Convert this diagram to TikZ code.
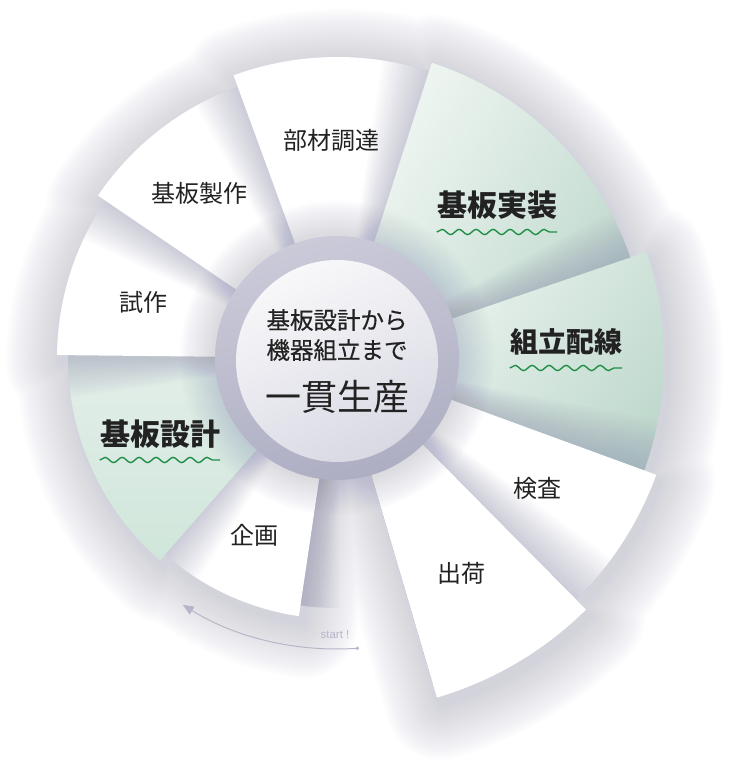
\documentclass[tikz,border=0pt]{standalone}
\usepackage{fontspec}
\setsansfont{Liberation Sans}
\newfontfamily\jp{Noto Sans CJK JP}
\newfontfamily\jpm[FakeBold=0.5]{Noto Sans CJK JP}
\usetikzlibrary{arrows.meta,calc,decorations.pathmorphing}
\definecolor{lav}{HTML}{8E8EAE}
\definecolor{ringtop}{HTML}{CACAD9}
\definecolor{ringbot}{HTML}{AEAEC3}
\definecolor{disktop}{HTML}{F8F8FA}
\definecolor{diskbot}{HTML}{D9D9E4}
\definecolor{mintlt}{HTML}{F3F8F5}
\definecolor{mintdk}{HTML}{BFD9CD}
\definecolor{mintA}{HTML}{E6F0EB}
\definecolor{mintB}{HTML}{D0E6DB}
\definecolor{wavec}{HTML}{1F8E46}
\definecolor{txt}{HTML}{222222}
\definecolor{arrowc}{HTML}{B6B6C9}
\tikzset{
  plainseg/.style ={fill=white},
  mintleft/.style ={top color=mintA,bottom color=mintB},
  minttop/.style  ={top color=mintlt,bottom color=mintdk,shading angle=60},
  mintright/.style={top color=mintlt,bottom color=mintdk,shading angle=55},
  castfill/.style ={fill=lav,opacity=0.035},
  lbl/.style      ={font=\jp\fontsize{24}{26}\selectfont,text=txt,inner sep=0pt},
  keylbl/.style   ={font=\jp\bfseries\fontsize{30}{32}\selectfont,text=txt,inner sep=0pt},
  midlbl/.style   ={font=\jpm\fontsize{23.5}{26}\selectfont,text=txt,inner sep=0pt},
  biglbl/.style   ={font=\jp\fontsize{36}{38}\selectfont,text=txt,inner sep=0pt},
  startlbl/.style ={font=\sffamily\fontsize{11.5}{12}\selectfont,text=arrowc,inner sep=0pt},
  wave/.style     ={draw=wavec,line width=1.4pt,decorate,
                    decoration={snake,segment length=17pt,amplitude=2.6pt}},
  startarrow/.style={arrowc,line width=1pt,-{Triangle[length=11pt,width=9pt]}},
}
% low angle / high angle / radius / fill / radius of the step below, drawn bottom to top
\newcommand{\steps}{215/261.6/261/plainseg/250, 172/228.8/269/mintleft/261,
  138/179.4/280/plainseg/269, 103/145.8/289/plainseg/280, 65/110.1/301/plainseg/289,
  12/72.2/310/minttop/301, -25/18.9/327/mintright/310, -52/-20.1/340/plainseg/327,
  -73.6/-45.3/354/plainseg/340}

\begin{document}
\begin{tikzpicture}[x=1pt,y=1pt]
  \useasboundingbox (0,0) rectangle (750,784);
  \fill[white] (0,0) rectangle (750,784);
  \coordinate (C) at (337,426);
  % soft glow: the whole wheel grown by 2.75pt steps, each layer one group
  \foreach \k in {1,...,20}{
    \begin{scope}[transparency group,opacity=0.018]
      \filldraw[lav,line width=5.5*\k,line join=round]
        \foreach \lo/\hi/\r/\sty/\pr in \steps {
          ($(C)+(4,-7)$) -- ++(\lo:\r) arc[start angle=\lo,end angle=\hi,radius=\r] -- cycle};
    \end{scope}
  }
  % the steps, each one lying on the one before
  \foreach \lo/\hi/\r/\sty/\pr in \steps{
    \foreach \k in {1,...,14}
      \fill[castfill] (C) -- ++(\lo:\pr)
        arc[start angle=\lo,end angle=\hi+0.65*\k,radius=\pr] -- cycle;
    \path[\sty] (C) -- ++(\lo:\r) arc[start angle=\lo,end angle=\hi,radius=\r] -- cycle;
  }
  % shadow of the hub
  \foreach \k in {1,...,16}
    \fill[lav,opacity=0.02] (C) circle[radius=122+2.2*\k];
  \shade[top color=ringtop,bottom color=ringbot,shading angle=15] (C) circle[radius=122];
  \shade[top color=disktop,bottom color=diskbot,shading angle=25] ($(C)+(0,-3)$) circle[radius=101];

  % step labels
  \node[lbl] (chotatsu) at (331,644) {部材調達};
  \node[lbl] (seisaku)  at (199,591) {基板製作};
  \node[lbl] (shisaku)  at (143,482) {試作};
  \node[keylbl] (jisso) at (497,579) {基板実装};
  \node[keylbl,font=\jp\bfseries\fontsize{28}{30}\selectfont] (haisen) at (566,442) {組立配線};
  \node[keylbl] (sekkei) at (160,350) {基板設計};
  \node[lbl] (kikaku) at (254,249) {企画};
  \node[lbl] (kensa)  at (537,296) {検査};
  \node[lbl] (shukka) at (461,211) {出荷};
  \draw[wave] ([yshift=-27]jisso.west) -- ([yshift=-27]jisso.east);
  \draw[wave] ([yshift=-26]haisen.west) -- ([yshift=-26]haisen.east);
  \draw[wave] ([yshift=-26]sekkei.west) -- ([yshift=-26]sekkei.east);

  % hub text
  \node[midlbl] (lineA) at (337,464) {基板設計から};
  \node[midlbl] (lineB) at (337,434) {機器組立まで};
  \node[biglbl] (ikkan) at (337,387) {一貫生産};

  % start arrow
  \coordinate (startdot) at ($(C)+(274:291)$);
  \fill[arrowc] (startdot) circle[radius=1.8];
  \draw[startarrow] (startdot) arc[start angle=274,end angle=238,radius=291];
  \node[startlbl] (start) at (335,149) {start !};
\end{tikzpicture}
\end{document}
